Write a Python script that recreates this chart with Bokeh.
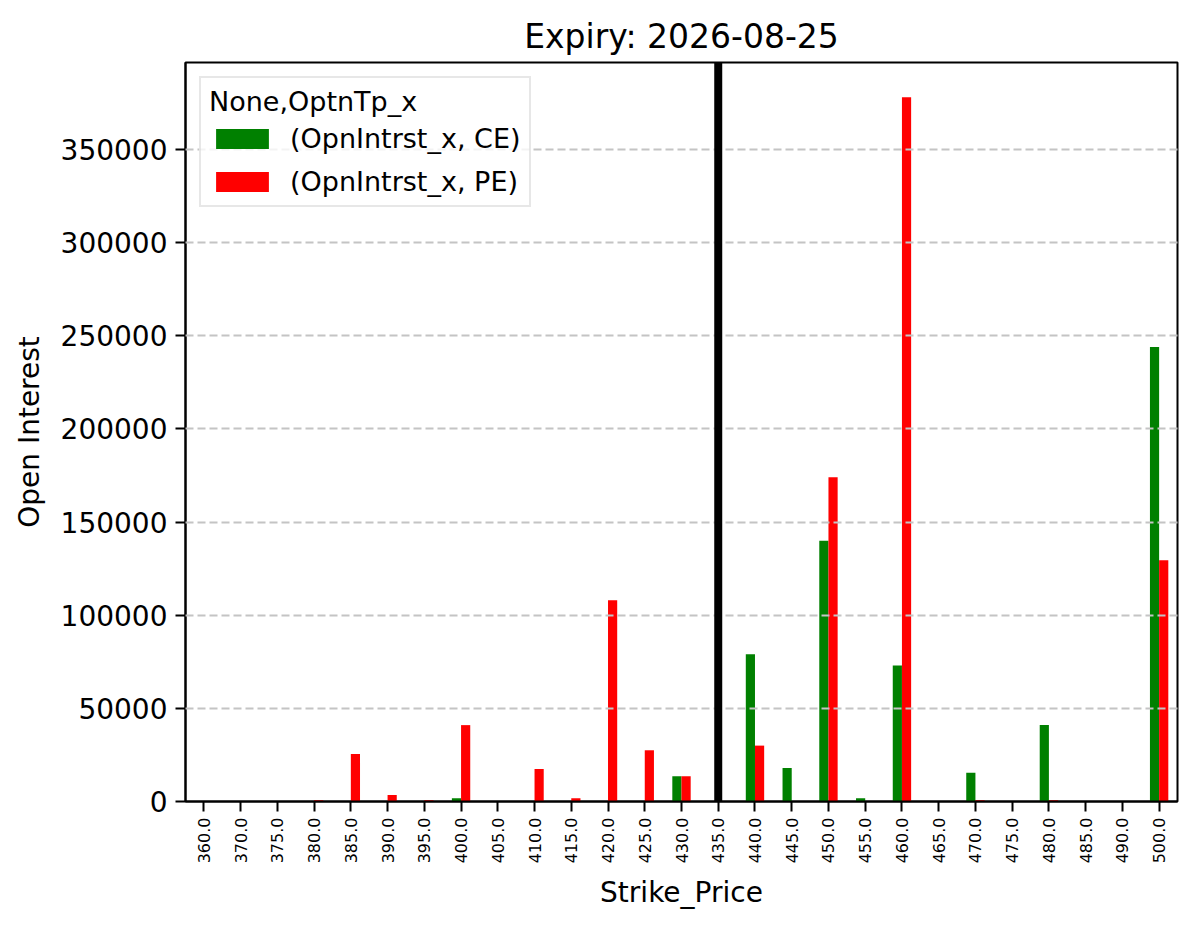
import math
from bokeh.plotting import figure
from bokeh.models import ColumnDataSource, FactorRange, Range1d, FixedTicker, NumeralTickFormatter, Span, Legend, LegendItem
from bokeh.transform import dodge
from bokeh.embed import file_html
from bokeh.resources import INLINE

strikes = ["360.0", "370.0", "375.0", "380.0", "385.0", "390.0", "395.0", "400.0", "405.0",
           "410.0", "415.0", "420.0", "425.0", "430.0", "435.0", "440.0", "445.0", "450.0",
           "455.0", "460.0", "465.0", "470.0", "475.0", "480.0", "485.0", "490.0", "500.0"]
ce_oi = [0, 0, 0, 0, 0, 0, 0, 1800, 0, 0, 0, 0, 0, 13500, 0, 79000, 18000, 140000,
         1800, 73000, 0, 15500, 0, 41000, 0, 0, 244000]
pe_oi = [0, 0, 0, 700, 25500, 3500, 700, 41000, 0, 17500, 1800, 108000, 27500, 13500, 0,
         30000, 0, 174000, 0, 378000, 0, 700, 0, 700, 0, 0, 129500]
spot_strike = "435.0"
y_ticks = [0, 50000, 100000, 150000, 200000, 250000, 300000, 350000]
title_text = "Expiry: 2026-08-25"
legend_title = "None,OptnTp_x"
ce_label = "(OpnIntrst_x, CE)"
pe_label = "(OpnIntrst_x, PE)"

FONT = "DejaVu Sans"

src = ColumnDataSource(dict(strike=strikes, ce=ce_oi, pe=pe_oi))

p = figure(width=1197, height=928, output_backend="svg", toolbar_location=None,
           x_range=FactorRange(*strikes, range_padding=0),
           y_range=Range1d(0, 396700),
           min_border_left=185, min_border_right=20, min_border_top=62, min_border_bottom=127)

r_ce = p.vbar(x=dodge("strike", -0.125, range=p.x_range), top="ce", width=0.25, source=src,
              fill_color="#008000", line_color=None)
r_pe = p.vbar(x=dodge("strike", 0.125, range=p.x_range), top="pe", width=0.25, source=src,
              fill_color="#ff0000", line_color=None)

spot = Span(location=strikes.index(spot_strike) + 0.5, dimension="height",
            line_color="black", line_width=8)
p.add_layout(spot)

# title
p.title.text = title_text
p.title.align = "center"
p.title.text_font = FONT
p.title.text_font_size = "33px"
p.title.text_font_style = "normal"
p.title.text_color = "black"
p.title.offset = 0
p.title.standoff = 13

# frame
p.outline_line_color = "black"
p.outline_line_width = 2
p.outline_line_alpha = 1

# grid
p.xgrid.grid_line_color = None
p.ygrid.grid_line_color = "#c4c4c4"
p.ygrid.grid_line_width = 2
p.ygrid.grid_line_dash = "8 4"
p.ygrid.level = "guide"
p.ygrid.ticker = FixedTicker(ticks=y_ticks)

# y axis
p.yaxis.ticker = FixedTicker(ticks=y_ticks)
p.yaxis.formatter = NumeralTickFormatter(format="0")
p.yaxis.axis_label = "Open Interest"
for ax in (p.xaxis[0], p.yaxis[0]):
    ax.axis_label_text_font = FONT
    ax.axis_label_text_font_size = "28px"
    ax.axis_label_text_font_style = "normal"
    ax.major_label_text_font = FONT
    ax.major_tick_in = 0
    ax.major_tick_out = 10
    ax.major_tick_line_width = 2
    ax.minor_tick_line_color = None
    ax.axis_line_width = 2
    ax.major_label_text_color = "black"
    ax.axis_label_text_color = "black"
p.yaxis.major_label_text_font_size = "28px"
p.yaxis.major_label_standoff = 8
p.yaxis.axis_label_standoff = 12

# x axis
p.xaxis.axis_label = "Strike_Price"
p.xaxis.major_label_text_font_size = "16px"
p.xaxis.major_label_orientation = math.pi / 2
p.xaxis.major_label_standoff = 6
p.xaxis.axis_label_standoff = 10

legend = Legend(items=[LegendItem(label=ce_label, renderers=[r_ce]),
                       LegendItem(label=pe_label, renderers=[r_pe])],
                location="top_left", title=legend_title)
legend.title_text_font = FONT
legend.title_text_font_size = "27px"
legend.title_text_font_style = "normal"
legend.title_text_color = "black"
legend.title_standoff = 6
legend.label_text_font = FONT
legend.label_text_font_size = "27px"
legend.label_text_color = "black"
legend.glyph_width = 66
legend.glyph_height = 25
legend.label_standoff = 15
legend.label_height = 30
legend.spacing = 12
legend.padding = 8
legend.margin = 14
legend.border_line_color = "#d0d0d0"
legend.border_line_width = 2
legend.background_fill_alpha = 0.8
p.add_layout(legend)

open("out.html", "w").write(file_html(p, INLINE))
